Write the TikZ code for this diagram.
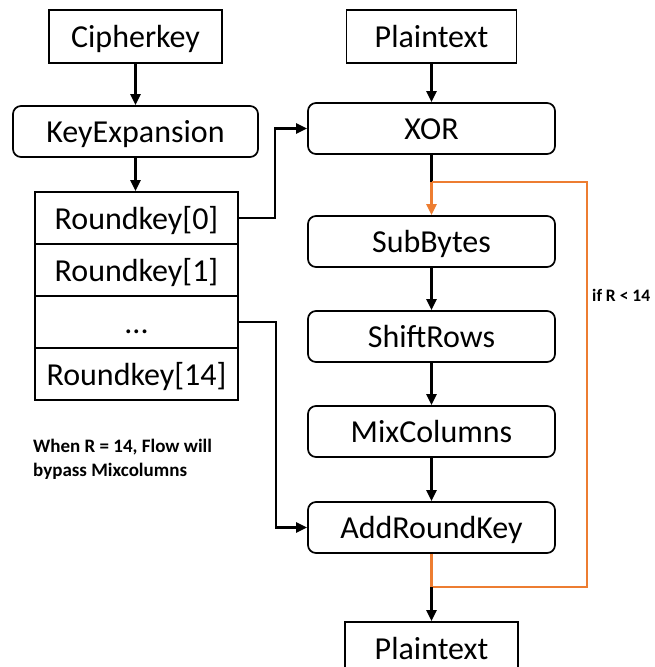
\documentclass[tikz,border=0pt]{standalone}
\usepackage{fontspec}
\setmainfont{Carlito}
\usetikzlibrary{arrows.meta}
\definecolor{flowOrange}{HTML}{ED7D31}
\tikzset{
	box/.style={draw, line width=0.6mm, minimum height=52pt, inner sep=0pt, text height=22pt, text depth=0pt, font=\fontsize{32}{38}\selectfont},
	roundbox/.style={box, rounded corners=8pt, minimum width=247pt, minimum height=51pt},
	keyrow/.style={box, minimum width=203pt},
	arr/.style={line width=0.8mm, -{Triangle[length=11pt,width=10pt]}},
	loopline/.style={line width=0.9mm, color=flowOrange},
	note/.style={font=\bfseries\fontsize{19}{23.5}\selectfont, inner sep=0pt, align=left}
}

\begin{document}
\begin{tikzpicture}[x=1pt, y=-1pt]
			%%%%% START %%%%%
			\useasboundingbox (0, 0) rectangle (654, 667);
			\clip (0, 0) rectangle (654, 667);
			
			% key side
			\node[box, minimum width=173pt, minimum height=53pt] (cipherkey) at (135.5, 36.5) {Cipherkey};
			\node[roundbox, minimum width=245pt] (keyexp) at (135.5, 131.5) {KeyExpansion};
			\node[keyrow] (rk0) at (136.5, 218) {Roundkey[0]};
			\node[keyrow] (rk1) at (136.5, 270) {Roundkey[1]};
			\node[keyrow] (rkdots) at (136.5, 322) {...};
			\node[keyrow] (rk14) at (136.5, 374) {Roundkey[14]};
			
			% round side
			\node[box, minimum width=170pt, minimum height=53pt] (plainin) at (431.5, 36.5) {Plaintext};
			\node[roundbox] (xor) at (431.5, 128.5) {XOR};
			\node[roundbox] (subbytes) at (431.5, 241.5) {SubBytes};
			\node[roundbox] (shiftrows) at (431.5, 336.5) {ShiftRows};
			\node[roundbox] (mixcols) at (431.5, 431.5) {MixColumns};
			\node[roundbox] (addkey) at (431.5, 527.5) {AddRoundKey};
			\node[box, minimum width=173pt, minimum height=53pt] (plainout) at (431.5, 648.5) {Plaintext};
			
			\coordinate (looptop) at (431.5, 182);
			\coordinate (loopbot) at (431.5, 587);
			
			\draw[arr] (cipherkey) -- (keyexp);
			\draw[arr] (keyexp.south) -- (keyexp.south |- rk0.north);
			\draw[arr] (rk0.east) -- ++(36, 0) |- (xor.west);
			\draw[arr] (rkdots.east) -- ++(37, 0) |- (addkey.west);
			
			\draw[arr] (plainin) -- (xor);
			\draw[line width=0.8mm] (xor.south) -- (looptop);
			\draw[loopline, -{Triangle[length=11pt,width=10pt]}] (looptop) -- (subbytes.north);
			\draw[arr] (subbytes) -- (shiftrows);
			\draw[arr] (shiftrows) -- (mixcols);
			\draw[arr] (mixcols) -- (addkey);
			
			\draw[loopline] (addkey.south) -- (loopbot) -- ++(155.5, 0) |- (looptop);
			\draw[arr] (loopbot) -- (plainout.north);
			
			% notes
			\node[note, font=\bfseries\fontsize{17.5}{21}\selectfont, anchor=base west] (cond) at (592, 301) {if R < 14};
			\node[note, anchor=north west] (bypass) at (33, 439) {When R = 14, Flow will\\bypass Mixcolumns};
			
			%%%%% END %%%%%
\end{tikzpicture}
\end{document}
